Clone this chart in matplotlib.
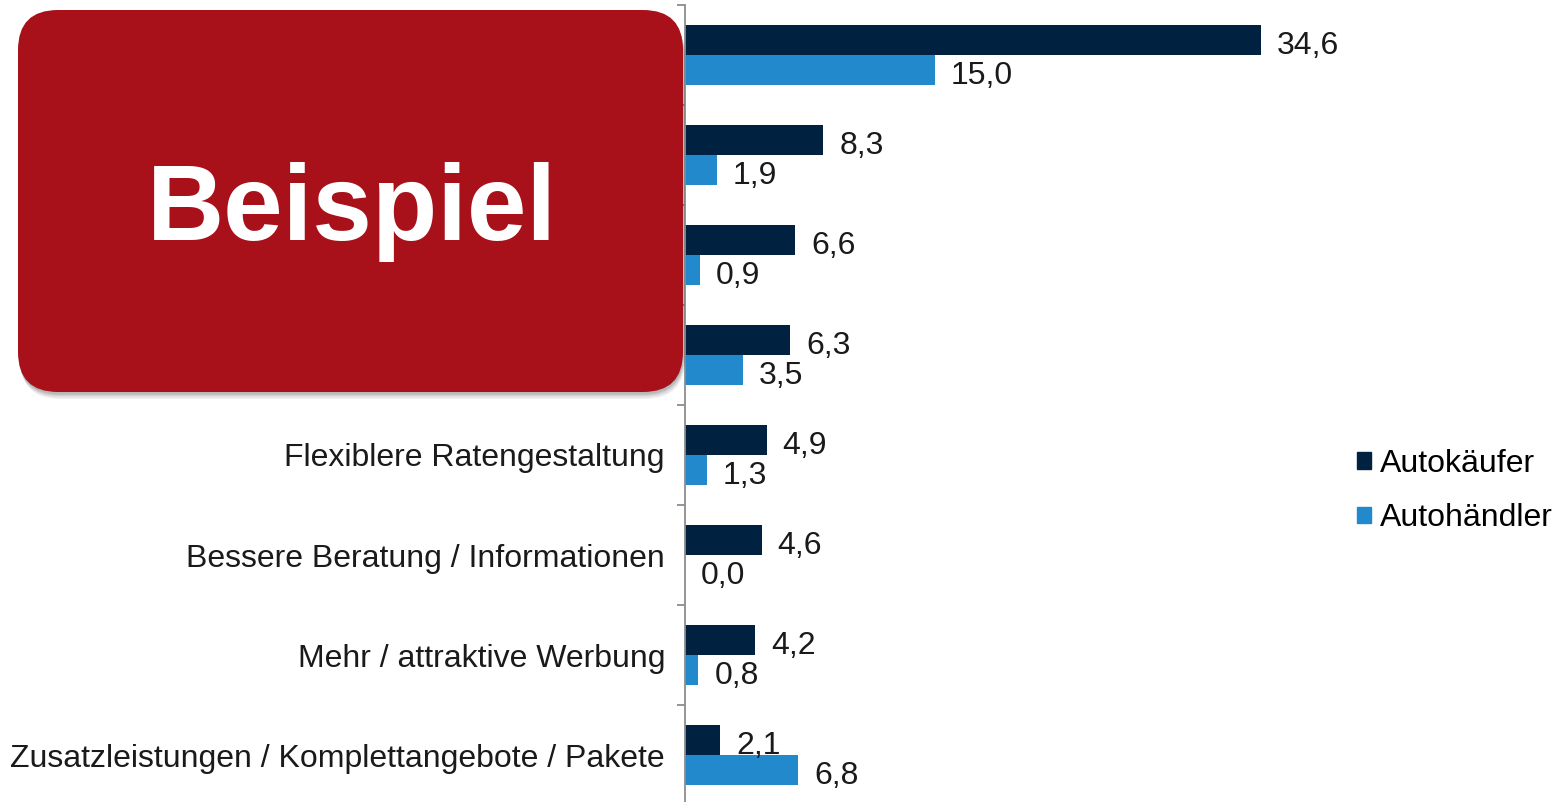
import matplotlib
matplotlib.use("Agg")
import matplotlib.pyplot as plt
from matplotlib.patches import FancyBboxPatch, Patch
import numpy as np

plt.rcParams['font.family'] = ['Liberation Sans', 'DejaVu Sans']

# categories (the first four are hidden behind the "Beispiel" box)
categories = ["", "", "", "",
              "Flexiblere Ratengestaltung",
              "Bessere Beratung / Informationen",
              "Mehr / attraktive Werbung",
              "Zusatzleistungen / Komplettangebote / Pakete"]
autokaeufer = [34.6, 8.3, 6.6, 6.3, 4.9, 4.6, 4.2, 2.1]
autohaendler = [15.0, 1.9, 0.9, 3.5, 1.3, 0.0, 0.8, 6.8]
series_names = ["Autokäufer", "Autohändler"]

dark = "#00213F"
blue = "#2289CD"
red = "#A8101A"

W, H = 1557, 802
fig = plt.figure(figsize=(W / 100, H / 100), dpi=100)
ax = fig.add_axes([685 / W, 1 - 805 / H, (1300 - 685) / W, 800 / H])

y = np.arange(len(categories))
h = 0.3
ax.barh(y - h / 2, autokaeufer, height=h, color=dark, zorder=2)
ax.barh(y + h / 2, autohaendler, height=h, color=blue, zorder=2)

ax.set_ylim(len(categories) - 0.5, -0.5)
ax.set_xlim(0, 615 / 16.65)

fs = 23
for i in range(len(categories)):
    ax.annotate(f"{autokaeufer[i]:.1f}".replace(".", ","), (autokaeufer[i], y[i] - h / 2),
                xytext=(16, -3), textcoords="offset pixels", va="center_baseline", ha="left",
                fontsize=fs, color="#1a1a1a")
    ax.annotate(f"{autohaendler[i]:.1f}".replace(".", ","), (autohaendler[i], y[i] + h / 2),
                xytext=(16, -3), textcoords="offset pixels", va="center_baseline", ha="left",
                fontsize=fs, color="#1a1a1a")

# category labels at centres, tick marks at boundaries
ax.set_yticks(y)
ax.set_yticklabels(categories, fontsize=fs, color="#1a1a1a")
ax.tick_params(axis="y", which="major", length=0, pad=14.4)
ax.set_yticks(np.arange(-0.5, len(categories) + 0.5, 1), minor=True)
ax.tick_params(axis="y", which="minor", length=6, width=1.3, color="#8c8c8c")
ax.set_xticks([])
for s in ["top", "right", "bottom"]:
    ax.spines[s].set_visible(False)
ax.spines["left"].set_color("#8c8c8c")
ax.spines["left"].set_linewidth(1.3)

handles = [Patch(color=dark), Patch(color=blue)]
fig.legend(handles, series_names, loc="center left", bbox_to_anchor=(1357 / W, 1 - 491 / H),
           frameon=False, fontsize=fs, handlelength=0.43, handleheight=0.43,
           handletextpad=0.28, labelspacing=0.78, borderaxespad=0, borderpad=0)

# "Beispiel" overlay box
ov = fig.add_axes([0, 0, 1, 1], zorder=10)
ov.set_xlim(0, W)
ov.set_ylim(H, 0)
ov.axis("off")
ov.patch.set_alpha(0)
for k, a in enumerate([0.06, 0.06, 0.08, 0.1]):
    d = 7 - k * 1.5
    ov.add_patch(FancyBboxPatch((18 + d * 0.3, 10 + d), 665, 382,
                                boxstyle="round,pad=0,rounding_size=40",
                                fc="black", ec="none", alpha=a))
ov.add_patch(FancyBboxPatch((18, 10), 665, 382, boxstyle="round,pad=0,rounding_size=40",
                            fc=red, ec="none"))
ov.text(352, 240, "Beispiel", color="white", fontsize=77, fontweight="bold",
        ha="center", va="baseline")

fig.savefig("out.png", dpi=100)
